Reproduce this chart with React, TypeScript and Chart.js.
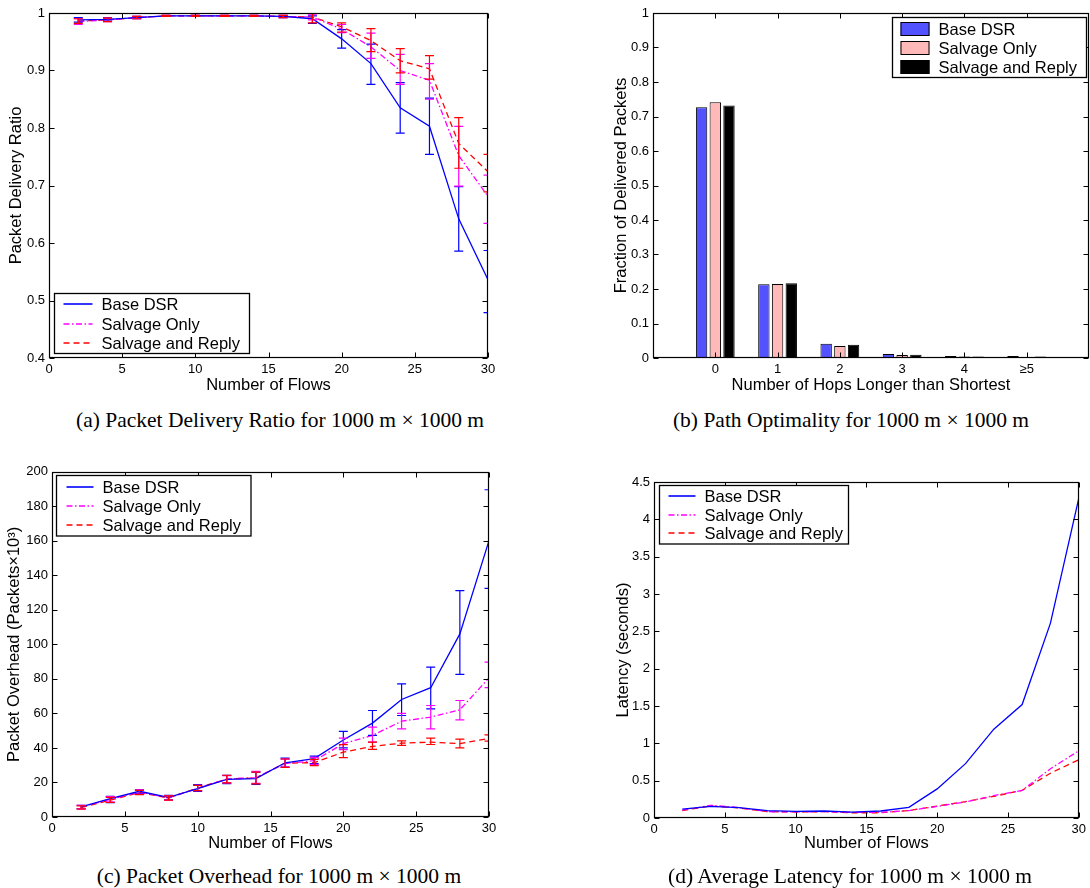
import React, { useEffect, useRef } from "react";
import { Chart, registerables } from "chart.js";

Chart.register(...registerables);

const SANS = "'Liberation Sans', Arial, Helvetica, sans-serif";
const SERIF = "'Liberation Serif', 'Times New Roman', serif";

// ---------- shared ----------
const seriesNames = ["Base DSR", "Salvage Only", "Salvage and Reply"];
const xFlows = [2, 4, 6, 8, 10, 12, 14, 16, 18, 20, 22, 24, 26, 28, 30];
const xTicksFlows = [0, 5, 10, 15, 20, 25, 30];
const xTickLabelsFlows = ["0", "5", "10", "15", "20", "25", "30"];

// ---------- (a) packet delivery ratio ----------
const yTicksA = [0.4, 0.5, 0.6, 0.7, 0.8, 0.9, 1];
const yTickLabelsA = ["0.4", "0.5", "0.6", "0.7", "0.8", "0.9", "1"];
const pdrBase = [0.988, 0.989, 0.992, 0.995, 0.995, 0.995, 0.995, 0.994, 0.99, 0.955, 0.912, 0.835, 0.803, 0.642, 0.536];
const pdrBaseLo = [0.984, 0.986, 0.99, 0.994, 0.994, 0.994, 0.994, 0.992, 0.982, 0.939, 0.876, 0.791, 0.754, 0.586, 0.479];
const pdrBaseHi = [0.992, 0.992, 0.994, 0.996, 0.996, 0.996, 0.996, 0.996, 0.995, 0.971, 0.946, 0.879, 0.852, 0.698, 0.587];
const pdrSalv = [0.985, 0.988, 0.992, 0.995, 0.995, 0.995, 0.995, 0.994, 0.993, 0.972, 0.941, 0.9, 0.883, 0.752, 0.681];
const pdrSalvLo = [0.98, 0.985, 0.99, 0.994, 0.994, 0.994, 0.994, 0.992, 0.988, 0.966, 0.921, 0.876, 0.85, 0.699, 0.634];
const pdrSalvHi = [0.99, 0.991, 0.994, 0.996, 0.996, 0.996, 0.996, 0.996, 0.997, 0.98, 0.965, 0.928, 0.912, 0.803, 0.718];
const pdrReply = [0.986, 0.988, 0.992, 0.995, 0.995, 0.995, 0.995, 0.994, 0.993, 0.976, 0.952, 0.917, 0.903, 0.773, 0.724];
const pdrReplyLo = [0.982, 0.985, 0.99, 0.994, 0.994, 0.994, 0.994, 0.992, 0.983, 0.967, 0.933, 0.896, 0.885, 0.73, 0.689];
const pdrReplyHi = [0.99, 0.991, 0.994, 0.996, 0.996, 0.996, 0.996, 0.996, 1.0, 0.983, 0.973, 0.938, 0.926, 0.818, 0.754];

// ---------- (b) path optimality ----------
const hopsX = [0, 1, 2, 3, 4, 5];
const hopLabels = ["0", "1", "2", "3", "4", "\u22655"];
const yTicksB = [0, 0.1, 0.2, 0.3, 0.4, 0.5, 0.6, 0.7, 0.8, 0.9, 1];
const yTickLabelsB = ["0", "0.1", "0.2", "0.3", "0.4", "0.5", "0.6", "0.7", "0.8", "0.9", "1"];
const pathBase = [0.727, 0.2135, 0.0415, 0.0116, 0.0058, 0.0058];
const pathSalv = [0.741, 0.2145, 0.035, 0.0087, 0.004, 0.003];
const pathReply = [0.732, 0.2164, 0.0386, 0.0097, 0.004, 0.004];

// ---------- (c) packet overhead ----------
const yTicksC = [0, 20, 40, 60, 80, 100, 120, 140, 160, 180, 200];
const yTickLabelsC = ["0", "20", "40", "60", "80", "100", "120", "140", "160", "180", "200"];
const ovBase = [5.8, 10.6, 14.9, 11.4, 16.4, 21.8, 22.2, 31.4, 33.8, 44.6, 54.4, 68.1, 74.9, 106.1, 160.1];
const ovBaseLo = [4.8, 8.3, 13.5, 10.0, 14.9, 19.3, 18.9, 28.9, 30.9, 40.0, 47.3, 58.8, 62.7, 82.6, 132.5];
const ovBaseHi = [6.8, 12.0, 15.8, 12.5, 18.7, 24.1, 26.0, 34.1, 35.3, 49.6, 61.7, 77.1, 86.8, 131.2, 189.6];
const ovSalv = [5.8, 10.2, 14.5, 11.0, 16.6, 22.0, 22.8, 31.0, 32.6, 42.5, 47.3, 55.5, 57.9, 62.1, 80.6];
const ovSalvLo = [4.9, 8.8, 13.3, 9.8, 15.2, 19.8, 19.5, 28.9, 30.5, 39.0, 43.4, 51.0, 51.0, 56.3, 74.9];
const ovSalvHi = [6.7, 11.8, 15.7, 12.3, 18.3, 24.0, 26.5, 33.5, 34.6, 45.7, 52.1, 60.0, 64.6, 67.5, 89.7];
const ovReply = [5.5, 9.8, 14.2, 11.0, 16.8, 22.0, 22.6, 31.2, 31.5, 37.6, 40.9, 42.8, 43.4, 42.5, 45.5];
const ovReplyLo = [4.6, 8.4, 13.0, 9.8, 15.3, 19.8, 19.2, 28.8, 29.8, 34.4, 39.2, 41.5, 42.0, 40.1, 44.0];
const ovReplyHi = [6.4, 11.4, 15.4, 12.2, 18.3, 24.2, 26.0, 33.6, 33.4, 41.9, 43.4, 44.1, 45.7, 45.1, 47.6];

// ---------- (d) latency ----------
const yTicksD = [0, 0.5, 1, 1.5, 2, 2.5, 3, 3.5, 4, 4.5];
const yTickLabelsD = ["0", "0.5", "1", "1.5", "2", "2.5", "3", "3.5", "4", "4.5"];
const latBase = [0.12, 0.156, 0.138, 0.098, 0.089, 0.094, 0.08, 0.094, 0.143, 0.39, 0.728, 1.19, 1.52, 2.61, 4.28];
const latSalv = [0.105, 0.17, 0.14, 0.085, 0.08, 0.085, 0.075, 0.075, 0.1, 0.155, 0.215, 0.3, 0.37, 0.66, 0.9];
const latReply = [0.1, 0.16, 0.135, 0.085, 0.08, 0.085, 0.07, 0.07, 0.1, 0.16, 0.22, 0.29, 0.37, 0.6, 0.78];

// ---------- styles ----------
const lineColors = ["#0000ff", "#ff00ff", "#ff0000"];
const lineDashes = [[], [6, 2.5, 1.5, 2.5], [6, 4]];
const barColors = ["#5252ff", "#ffb9b9", "#000000"];

// ---------- plugin: matlab box, inward ticks, error bars, legend ----------
const matlabPlugin = {
  id: "matlab",
  afterDatasetsDraw(chart: any) {
    const { ctx, chartArea: a } = chart;
    const xs = chart.scales.x;
    const ys = chart.scales.y;
    ctx.save();
    ctx.beginPath();
    ctx.rect(a.left, a.top, a.right - a.left, a.bottom - a.top);
    ctx.clip();
    chart.data.datasets.forEach((ds: any) => {
      if (!ds.errLo) return;
      ctx.strokeStyle = ds.borderColor;
      ctx.lineWidth = 1.2;
      ctx.setLineDash([]);
      ds.data.forEach((p: any, j: number) => {
        const x = xs.getPixelForValue(p.x);
        const y1 = ys.getPixelForValue(ds.errLo[j]);
        const y2 = ys.getPixelForValue(ds.errHi[j]);
        ctx.beginPath();
        ctx.moveTo(x, y1);
        ctx.lineTo(x, y2);
        ctx.moveTo(x - 4.5, y1);
        ctx.lineTo(x + 4.5, y1);
        ctx.moveTo(x - 4.5, y2);
        ctx.lineTo(x + 4.5, y2);
        ctx.stroke();
      });
    });
    ctx.restore();
  },
  afterDraw(chart: any, _args: any, opts: any) {
    const { ctx, chartArea: a } = chart;
    const xs = chart.scales.x;
    const ys = chart.scales.y;
    const L = Math.round(a.left) + 0.5;
    const R = Math.round(a.right) - 0.5;
    const T = Math.round(a.top) + 0.5;
    const B = Math.round(a.bottom) - 0.5;
    ctx.save();
    ctx.setLineDash([]);
    ctx.strokeStyle = "#000";
    ctx.lineWidth = 1;
    const tl = 5;
    ctx.beginPath();
    xs.ticks.forEach((t: any) => {
      const px = Math.round(xs.getPixelForValue(t.value)) + 0.5;
      ctx.moveTo(px, B);
      ctx.lineTo(px, B - tl);
      ctx.moveTo(px, T);
      ctx.lineTo(px, T + tl);
    });
    ys.ticks.forEach((t: any) => {
      const py = Math.round(ys.getPixelForValue(t.value)) + 0.5;
      ctx.moveTo(L, py);
      ctx.lineTo(L + tl, py);
      ctx.moveTo(R, py);
      ctx.lineTo(R - tl, py);
    });
    ctx.stroke();
    ctx.lineWidth = 1.2;
    ctx.strokeRect(L, T, R - L, B - T);

    const lg = opts && opts.legend;
    if (lg) {
      ctx.fillStyle = "#fff";
      ctx.fillRect(lg.left, lg.top, lg.width, lg.height);
      ctx.strokeStyle = "#000";
      ctx.lineWidth = 1.3;
      ctx.strokeRect(lg.left, lg.top, lg.width, lg.height);
      ctx.font = `16.5px ${SANS}`;
      ctx.textBaseline = "middle";
      ctx.textAlign = "left";
      chart.data.datasets.forEach((ds: any, i: number) => {
        const cy = Math.round(lg.top + lg.firstRow + i * lg.rowGap);
        if (lg.kind === "box") {
          ctx.fillStyle = ds.backgroundColor;
          ctx.fillRect(lg.left + lg.sampleStart, cy - 7, lg.sampleEnd - lg.sampleStart, 14);
          ctx.lineWidth = 1;
          ctx.strokeStyle = "#000";
          ctx.setLineDash([]);
          ctx.strokeRect(lg.left + lg.sampleStart + 0.5, cy - 6.5, lg.sampleEnd - lg.sampleStart - 1, 13);
        } else {
          ctx.strokeStyle = ds.borderColor;
          ctx.lineWidth = 1.6;
          ctx.setLineDash(ds.borderDash || []);
          ctx.beginPath();
          ctx.moveTo(lg.left + lg.sampleStart, cy);
          ctx.lineTo(lg.left + lg.sampleEnd, cy);
          ctx.stroke();
          ctx.setLineDash([]);
        }
        ctx.fillStyle = "#000";
        ctx.fillText(ds.label, lg.left + lg.textStart, cy + 1);
      });
    }
    ctx.restore();
  },
};

function lineDatasets(vals: number[][], lo?: number[][], hi?: number[][]) {
  return vals.map((v, i) => ({
    label: seriesNames[i],
    data: xFlows.map((x, j) => ({ x, y: v[j] })),
    borderColor: lineColors[i],
    backgroundColor: lineColors[i],
    borderDash: lineDashes[i],
    borderWidth: 1.3,
    pointRadius: 0,
    tension: 0,
    errLo: lo ? lo[i] : undefined,
    errHi: hi ? hi[i] : undefined,
  }));
}

function axisX(opts: any) {
  return {
    type: "linear",
    min: opts.min,
    max: opts.max,
    offset: false,
    grid: { display: false, drawTicks: false, offset: false },
    border: { display: false },
    afterBuildTicks: (s: any) => {
      s.ticks = opts.ticks.map((v: number) => ({ value: v }));
    },
    afterFit: (s: any) => {
      s.height = opts.height;
    },
    ticks: {
      autoSkip: false,
      maxRotation: 0,
      padding: 4,
      color: "#000",
      font: { family: SANS, size: 13 },
      callback: (_v: any, i: number) => opts.labels[i],
    },
    title: {
      display: true,
      text: opts.title,
      color: "#000",
      font: { family: SANS, size: 16.5 },
      padding: { top: 0, bottom: opts.titlePad },
    },
  };
}

function axisY(opts: any) {
  return {
    type: "linear",
    min: opts.min,
    max: opts.max,
    grid: { display: false, drawTicks: false },
    border: { display: false },
    afterBuildTicks: (s: any) => {
      s.ticks = opts.ticks.map((v: number) => ({ value: v }));
    },
    afterFit: (s: any) => {
      s.width = opts.width;
    },
    ticks: {
      autoSkip: false,
      padding: 4,
      color: "#000",
      font: { family: SANS, size: 13 },
      callback: (_v: any, i: number) => opts.labels[i],
    },
    title: {
      display: true,
      text: opts.title,
      color: "#000",
      font: { family: SANS, size: 16.5 },
      padding: { top: opts.titlePad, bottom: 0 },
    },
  };
}

function baseOptions(padding: any, legend: any, scales: any) {
  return {
    responsive: false,
    animation: false,
    devicePixelRatio: 1,
    layout: { padding },
    plugins: {
      legend: { display: false },
      tooltip: { enabled: false },
      matlab: { legend },
    },
    scales,
  };
}

function configA() {
  return {
    type: "line",
    data: {
      datasets: lineDatasets(
        [pdrBase, pdrSalv, pdrReply],
        [pdrBaseLo, pdrSalvLo, pdrReplyLo],
        [pdrBaseHi, pdrSalvHi, pdrReplyHi]
      ),
    },
    options: baseOptions(
      { left: 0, top: 13, right: 57, bottom: 0 },
      { kind: "line", left: 54.5, top: 293.5, width: 195, height: 60, firstRow: 10.5, rowGap: 19.5, sampleStart: 9, sampleEnd: 38, textStart: 47 },
      {
        x: axisX({ min: 0, max: 30, ticks: xTicksFlows, labels: xTickLabelsFlows, title: "Number of Flows", height: 42, titlePad: 5 }),
        y: axisY({ min: 0.4, max: 1, ticks: yTicksA, labels: yTickLabelsA, title: "Packet Delivery Ratio", width: 49, titlePad: 7 }),
      }
    ),
    plugins: [matlabPlugin],
  };
}

function configB() {
  const vals = [pathBase, pathSalv, pathReply];
  return {
    type: "bar",
    data: {
      datasets: vals.map((v, i) => ({
        label: seriesNames[i],
        data: hopsX.map((x, j) => ({ x, y: v[j] })),
        backgroundColor: barColors[i],
        borderColor: "#000",
        borderWidth: 1,
        categoryPercentage: 0.66,
        barPercentage: 0.83,
      })),
    },
    options: baseOptions(
      { left: 0, top: 13, right: 1, bottom: 0 },
      { kind: "box", left: 332.5, top: 17.5, width: 194, height: 60, firstRow: 11.8, rowGap: 19, sampleStart: 8, sampleEnd: 37, textStart: 46 },
      {
        x: axisX({ min: -1, max: 6, ticks: hopsX, labels: hopLabels, title: "Number of Hops Longer than Shortest", height: 42, titlePad: 5 }),
        y: axisY({ min: 0, max: 1, ticks: yTicksB, labels: yTickLabelsB, title: "Fraction of Delivered Packets", width: 93, titlePad: 52 }),
      }
    ),
    plugins: [matlabPlugin],
  };
}

function configC() {
  return {
    type: "line",
    data: {
      datasets: lineDatasets(
        [ovBase, ovSalv, ovReply],
        [ovBaseLo, ovSalvLo, ovReplyLo],
        [ovBaseHi, ovSalvHi, ovReplyHi]
      ),
    },
    options: baseOptions(
      { left: 0, top: 11, right: 56, bottom: 0 },
      { kind: "line", left: 56.5, top: 15.5, width: 194.5, height: 60.5, firstRow: 11, rowGap: 19.2, sampleStart: 10, sampleEnd: 37, textStart: 46 },
      {
        x: axisX({ min: 0, max: 30, ticks: xTicksFlows, labels: xTickLabelsFlows, title: "Number of Flows", height: 43, titlePad: 7 }),
        y: axisY({ min: 0, max: 200, ticks: yTicksC, labels: yTickLabelsC, title: "Packet Overhead (Packets\u00d710\u00b3)", width: 52, titlePad: 5 }),
      }
    ),
    plugins: [matlabPlugin],
  };
}

function configD() {
  return {
    type: "line",
    data: { datasets: lineDatasets([latBase, latSalv, latReply]) },
    options: baseOptions(
      { left: 0, top: 12, right: 9, bottom: 0 },
      { kind: "line", left: 99.5, top: 15.5, width: 189, height: 58.5, firstRow: 10.5, rowGap: 18.7, sampleStart: 9, sampleEnd: 36, textStart: 45 },
      {
        x: axisX({ min: 0, max: 30, ticks: xTicksFlows, labels: xTickLabelsFlows, title: "Number of Flows", height: 52, titlePad: 17 }),
        y: axisY({ min: 0, max: 4.5, ticks: yTicksD, labels: yTickLabelsD, title: "Latency (seconds)", width: 94, titlePad: 54 }),
      }
    ),
    plugins: [matlabPlugin],
  };
}

function ChartBox(props: { make: () => any; left: number; top: number; width: number; height: number }) {
  const ref = useRef<HTMLCanvasElement | null>(null);
  useEffect(() => {
    if (!ref.current) return;
    const chart = new Chart(ref.current, props.make());
    return () => chart.destroy();
  }, []);
  return (
    <canvas
      ref={ref}
      width={props.width}
      height={props.height}
      style={{ position: "absolute", left: props.left, top: props.top, width: props.width, height: props.height }}
    />
  );
}

function Caption(props: { text: string; cx: number; cy: number }) {
  return (
    <div
      style={{
        position: "absolute",
        left: props.cx,
        top: props.cy,
        transform: "translate(-50%, -50%)",
        whiteSpace: "nowrap",
        fontFamily: SERIF,
        fontSize: 21.5,
        color: "#000",
        lineHeight: 1,
      }}
    >
      {props.text}
    </div>
  );
}

export default function App() {
  return (
    <div style={{ position: "absolute", left: 0, top: 0, width: 1090, height: 888, background: "#fff", overflow: "hidden" }}>
      <ChartBox make={configA} left={0} top={0} width={545} height={400} />
      <ChartBox make={configB} left={560} top={0} width={530} height={400} />
      <ChartBox make={configC} left={0} top={460} width={545} height={400} />
      <ChartBox make={configD} left={560} top={470} width={530} height={400} />
      <Caption text={"(a) Packet Delivery Ratio for 1000 m \u00d7 1000 m"} cx={280} cy={421} />
      <Caption text={"(b) Path Optimality for 1000 m \u00d7 1000 m"} cx={851} cy={421} />
      <Caption text={"(c) Packet Overhead for 1000 m \u00d7 1000 m"} cx={279} cy={877} />
      <Caption text={"(d) Average Latency for 1000 m \u00d7 1000 m"} cx={850} cy={877} />
    </div>
  );
}
